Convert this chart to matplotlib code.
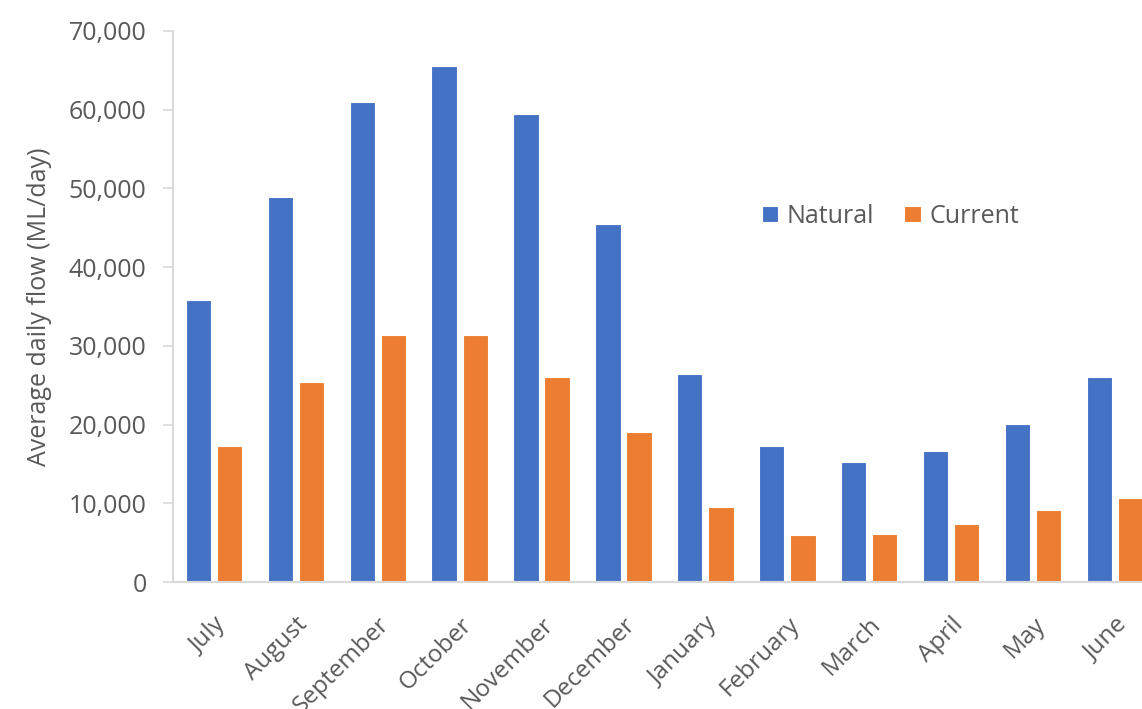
import numpy as np
import matplotlib
matplotlib.use('Agg')
import matplotlib.pyplot as plt
from matplotlib.ticker import FuncFormatter

months = ['July', 'August', 'September', 'October', 'November', 'December',
          'January', 'February', 'March', 'April', 'May', 'June']
natural = [35800, 48900, 61000, 65600, 59400, 45500,
           26400, 17300, 15300, 16700, 20100, 26000]
current = [17300, 25400, 31400, 31400, 26000, 19100,
           9500, 6000, 6100, 7400, 9100, 10700]

plt.rcParams['font.family'] = ['Open Sans', 'DejaVu Sans']
text_col = '#595959'
grid_col = '#D9D9D9'

fig = plt.figure(figsize=(11.42, 7.09), dpi=100)
ax = fig.add_axes([0.1515, 0.1791, 0.8606, 0.7772])

x = np.arange(len(months))
w = 0.31
ax.bar(x - 0.19, natural, w, color='#4472C4', edgecolor='white', linewidth=0.8, label='Natural')
ax.bar(x + 0.19, current, w, color='#ED7D31', edgecolor='white', linewidth=0.8, label='Current')

ax.set_xlim(-0.5, len(months) - 0.5)
ax.set_ylim(0, 70000)
ax.set_yticks(np.arange(0, 70001, 10000))
ax.yaxis.set_major_formatter(FuncFormatter(lambda v, p: f'{int(v):,}'))

ax.set_xticks(x)
ax.set_xticklabels(months, rotation=45, ha='right', va='top', rotation_mode='anchor')
ax.tick_params(axis='x', length=0, pad=22, labelsize=17.5, labelcolor=text_col)
ax.tick_params(axis='y', length=7, color=grid_col, width=1.2, pad=12, labelsize=18, labelcolor=text_col)

for s in ['top', 'right']:
    ax.spines[s].set_visible(False)
for s in ['left', 'bottom']:
    ax.spines[s].set_color(grid_col)
    ax.spines[s].set_linewidth(1.5)

ax.set_ylabel('Average daily flow (ML/day)', fontsize=18, color=text_col, labelpad=12)

ax.legend(loc='center', bbox_to_anchor=(0.73, 0.664), ncol=2, frameon=False,
          fontsize=18, labelcolor=text_col, handlelength=0.65, handleheight=0.65,
          handletextpad=0.35, columnspacing=1.2)

fig.savefig('out.png', dpi=100)
